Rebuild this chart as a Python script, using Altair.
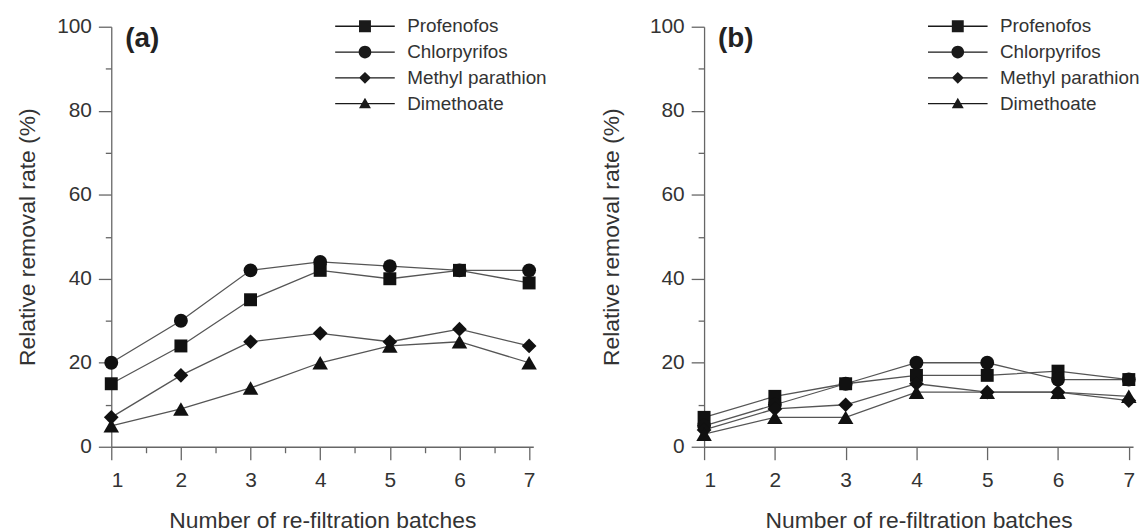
import altair as alt
import pandas as pd

FONT = "Liberation Sans"

batches = [1, 2, 3, 4, 5, 6, 7]
pesticides = ["Profenofos", "Chlorpyrifos", "Methyl parathion", "Dimethoate"]

# Panel (a)
a_profenofos = [15, 24, 35, 42, 40, 42, 39]
a_chlorpyrifos = [20, 30, 42, 44, 43, 42, 42]
a_methyl_parathion = [7, 17, 25, 27, 25, 28, 24]
a_dimethoate = [5, 9, 14, 20, 24, 25, 20]

# Panel (b)
b_profenofos = [7, 12, 15, 17, 17, 18, 16]
b_chlorpyrifos = [5, 10, 15, 20, 20, 16, 16]
b_methyl_parathion = [4, 9, 10, 15, 13, 13, 11]
b_dimethoate = [3, 7, 7, 13, 13, 13, 12]

y_major = [0, 20, 40, 60, 80, 100]
y_minor = [10, 30, 50, 70, 90]
x_minor_a = [1.5, 2.5, 3.5, 4.5, 5.5, 6.5]

marker_shapes = ["square", "circle", "diamond", "triangle-up"]
marker_sizes = [170, 245, 260, 250]
# legend glyphs: a thin bar (the line) plus the marker, all filled
LINE = "M-4,-0.09H4V0.09H-4Z"
legend_paths = [
    LINE + "M-0.8,-0.8H0.8V0.8H-0.8Z",
    LINE + "M0.85,0A0.85,0.85,0,1,1,-0.85,0A0.85,0.85,0,1,1,0.85,0Z",
    LINE + "M0,-0.8L0.8,0L0,0.8L-0.8,0Z",
    LINE + "M0,-0.8L0.8,0.6L-0.8,0.6Z",
]


def make_df(series):
    rows = []
    for name, vals in zip(pesticides, series):
        for b, v in zip(batches, vals):
            rows.append({"Pesticide": name, "Batch": b, "Value": v})
    return pd.DataFrame(rows)


df_a = make_df([a_profenofos, a_chlorpyrifos, a_methyl_parathion, a_dimethoate])
df_b = make_df([b_profenofos, b_chlorpyrifos, b_methyl_parathion, b_dimethoate])


def panel(df, label, minor_x, width, title_pad):
    base = alt.Chart(df)
    xs = alt.Scale(domain=[1, 7.06], nice=False, zero=False)
    ys = alt.Scale(domain=[0, 100], nice=False)
    lines = base.mark_line(color="#555555", strokeWidth=1.3).encode(
        x=alt.X("Batch:Q", scale=xs,
                axis=alt.Axis(values=batches, title="Number of re-filtration batches",
                              orient="bottom", tickSize=13, labelPadding=10,
                              titlePadding=19, format="d")),
        y=alt.Y("Value:Q", scale=ys,
                axis=alt.Axis(values=y_major, title="Relative removal rate (%)",
                              orient="left", tickSize=13, labelPadding=7,
                              titlePadding=title_pad)),
        detail="Pesticide:N",
    )
    if minor_x:
        x_pts = alt.X("Batch:Q", axis=alt.Axis(values=minor_x, labels=False, title=None,
                                               domain=False, tickSize=6, orient="bottom"))
    else:
        x_pts = alt.X("Batch:Q", axis=None)
    pts = base.mark_point(filled=True, opacity=1, color="#111111").encode(
        x=x_pts,
        y=alt.Y("Value:Q", axis=alt.Axis(values=y_minor, labels=False, title=None,
                                         domain=False, tickSize=6, orient="left")),
        shape=alt.Shape("Pesticide:N", scale=alt.Scale(domain=pesticides, range=marker_shapes),
                        legend=None),
        size=alt.Size("Pesticide:O", scale=alt.Scale(domain=pesticides, range=marker_sizes),
                      legend=None),
    )
    leg = base.transform_filter("datum.Value > 1000").mark_point(
        filled=True, color="#1a1a1a", opacity=1
    ).encode(
        shape=alt.Shape("Pesticide:N", scale=alt.Scale(domain=pesticides, range=legend_paths),
                        legend=alt.Legend(title=None, orient="none", legendX=246, legendY=-10,
                                          labelFontSize=19, labelFont=FONT, labelColor="#333333",
                                          symbolSize=225, symbolFillColor="#1a1a1a",
                                          symbolOpacity=1, symbolStrokeWidth=0,
                                          labelOffset=33, rowPadding=6, padding=0)),
    )
    lab = alt.Chart(pd.DataFrame({"t": [label]})).mark_text(
        align="left", baseline="middle", fontSize=28, fontWeight="bold", font=FONT, color="#222222"
    ).encode(x=alt.value(14), y=alt.value(12), text="t:N")
    return alt.layer(lines, pts, leg, lab).resolve_scale(
        shape="independent", size="independent"
    ).resolve_axis(x="independent", y="independent").properties(width=width, height=423)


pa = panel(df_a, "(a)", x_minor_a, 425, 17)
pb = panel(df_b, "(b)", None, 432, 26)

chart = alt.hconcat(pa, pb, spacing=53).configure(
    padding={"left": 8, "top": 6, "right": 0, "bottom": 0}
).configure_view(stroke=None).configure_axis(
    domainColor="#666666", tickColor="#666666", domainWidth=1.3, tickWidth=1.3,
    labelColor="#333333", titleColor="#333333", labelFont=FONT, titleFont=FONT,
    labelFontSize=21, titleFontSize=23, titleFontWeight="normal", grid=False,
)

chart.save("out.html", embed_options={"renderer": "svg", "actions": False})
